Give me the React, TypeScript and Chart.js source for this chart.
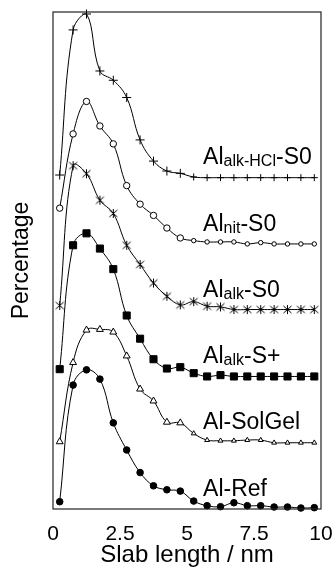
import React, { useEffect, useRef } from 'react';
import { Chart, registerables } from 'chart.js';

Chart.register(...registerables);

// ---- data ----
const slabLengths = [0.25, 0.75, 1.25, 1.75, 2.25, 2.75, 3.25, 3.75, 4.25, 4.75, 5.25, 5.75, 6.25, 6.75, 7.25, 7.75, 8.25, 8.75, 9.25, 9.75];

const alRef = [1.1, 18.7, 21.0, 19.6, 13.0, 8.9, 5.5, 3.5, 2.9, 2.7, 1.2, 0.5, 0.35, 0.95, 0.5, 0.5, 0.3, 0.3, 0.15, 0.2];
const alSolGel = [0.15, 12.1, 17.0, 17.1, 16.7, 13.1, 8.1, 6.3, 3.1, 3.0, 1.4, 0.4, 0.3, 0.3, 0.4, 0.4, 0, 0, 0, 0];
const alAlkSPlus = [1.1, 19.8, 21.6, 19.3, 16.2, 9.2, 5.7, 2.6, 1.2, 1.4, 0.5, 0, 0.2, 0, 0, 0, 0, 0, 0, 0];
const alAlkS0 = [0.7, 21.8, 20.6, 16.6, 14.6, 9.8, 6.9, 4.1, 2.1, 0.8, 1.3, 0.6, 0.5, 0.1, 0.1, 0.1, 0.1, 0.1, 0.1, 0.1];
const alNitS0 = [5.4, 16.6, 21.5, 17.8, 15.1, 8.8, 6.0, 4.3, 2.4, 0.9, 0.5, 0.3, 0.3, 0.3, 0, 0.2, 0, 0, 0, 0];
const alAlkHClS0 = [0.4, 22.3, 24.7, 16.1, 14.7, 12.1, 5.7, 2.5, 1.0, 0.65, 0.1, 0, 0, 0, 0, 0, 0, 0, 0, 0];

const seriesOffsets = [0, 10, 20, 30, 40, 50];

const labelMain = ['Al-Ref', 'Al-SolGel', 'Al', 'Al', 'Al', 'Al'];
const labelSub = ['', '', 'alk', 'alk', 'nit', 'alk-HCl'];
const labelTail = ['', '', '-S+', '-S0', '-S0', '-S0'];

const xTickValues = [0, 2.5, 5, 7.5, 10];
const xTickLabels = ['0', '2.5', '5', '7.5', '10'];

const FONT = '"Liberation Sans", Arial, sans-serif';
const LABEL_X = 5.6;
const LABEL_LIFT = 2;

function makeAsterisk(): HTMLCanvasElement {
  const c = document.createElement('canvas');
  c.width = 11;
  c.height = 11;
  const g = c.getContext('2d')!;
  g.strokeStyle = '#000';
  g.lineWidth = 1;
  g.beginPath();
  g.moveTo(5.5, 1);
  g.lineTo(5.5, 10);
  g.moveTo(1.5, 2);
  g.lineTo(9.5, 9);
  g.moveTo(9.5, 2);
  g.lineTo(1.5, 9);
  g.stroke();
  return c;
}

const framePlugin = {
  id: 'frame',
  afterDatasetsDraw(chart: any) {
    const { ctx, chartArea: a } = chart;
    ctx.save();
    ctx.strokeStyle = '#222';
    ctx.lineWidth = 1.2;
    ctx.strokeRect(a.left, a.top, a.right - a.left, a.bottom - a.top);
    ctx.restore();
  },
};

const labelPlugin = {
  id: 'seriesLabels',
  afterDatasetsDraw(chart: any) {
    const { ctx } = chart;
    const x = chart.scales.x;
    const y = chart.scales.y;
    ctx.save();
    ctx.fillStyle = '#000';
    ctx.textBaseline = 'alphabetic';
    ctx.textAlign = 'left';
    seriesOffsets.forEach((off, i) => {
      let px = x.getPixelForValue(LABEL_X);
      const py = y.getPixelForValue(off + LABEL_LIFT);
      ctx.font = `23px ${FONT}`;
      ctx.fillText(labelMain[i], px, py);
      px += ctx.measureText(labelMain[i]).width;
      if (labelSub[i]) {
        ctx.font = `16px ${FONT}`;
        ctx.fillText(labelSub[i], px, py + 2);
        px += ctx.measureText(labelSub[i]).width;
      }
      if (labelTail[i]) {
        ctx.font = `23px ${FONT}`;
        ctx.fillText(labelTail[i], px, py);
      }
    });
    ctx.restore();
  },
};

export default function App() {
  const ref = useRef<HTMLCanvasElement>(null);

  useEffect(() => {
    if (!ref.current) return;
    const asterisk = makeAsterisk();
    const seriesValues = [alRef, alSolGel, alAlkSPlus, alAlkS0, alNitS0, alAlkHClS0];
    const tailSmall = (big: number, small: number) => (c: any) =>
      slabLengths[c.dataIndex] > 5 ? small : big;

    const styles: any[] = [
      { pointStyle: 'circle', pointRadius: 3.3, pointBackgroundColor: '#000' },
      { pointStyle: 'triangle', pointRadius: tailSmall(4, 2.8), pointBackgroundColor: '#fff' },
      { pointStyle: 'rect', pointRadius: 5, pointBackgroundColor: '#000' },
      { pointStyle: asterisk, pointRadius: 5 },
      { pointStyle: 'circle', pointRadius: tailSmall(3.2, 2.2), pointBackgroundColor: '#fff' },
      { pointStyle: 'cross', pointRadius: tailSmall(4.5, 3.5), pointBackgroundColor: '#000' },
    ];

    const datasets = seriesValues.map((vals, i) => ({
      label: labelMain[i] + labelSub[i] + labelTail[i],
      data: vals.map((v, j) => ({ x: slabLengths[j], y: v + seriesOffsets[i] })),
      borderColor: '#000',
      borderWidth: 1,
      pointBorderColor: '#000',
      pointBorderWidth: 1,
      tension: 0.4,
      fill: false,
      clip: false as any,
      ...styles[i],
    }));

    const chart = new Chart(ref.current, {
      type: 'line',
      data: { datasets },
      options: {
        animation: false,
        responsive: false,
        maintainAspectRatio: false,
        layout: { padding: { top: 12, right: 12, left: 0, bottom: 0 } },
        plugins: { legend: { display: false }, tooltip: { enabled: false } },
        scales: {
          x: {
            type: 'linear',
            min: 0,
            max: 10,
            grid: { display: false, drawTicks: false },
            border: { display: false },
            afterBuildTicks: (s: any) => {
              s.ticks = xTickValues.map((v) => ({ value: v }));
            },
            afterFit: (s: any) => {
              s.height = 58;
              s.paddingLeft = 0;
              s.paddingRight = 0;
            },
            ticks: {
              padding: 13,
              color: '#000',
              font: { family: FONT, size: 21 },
              maxRotation: 0,
              autoSkip: false,
              callback: (v: any) => {
                const k = xTickValues.indexOf(Number(v));
                return k >= 0 ? xTickLabels[k] : '';
              },
            },
            title: {
              display: true,
              text: 'Slab length / nm',
              color: '#000',
              font: { family: FONT, size: 24, lineHeight: 1 },
              padding: { top: 0, bottom: 0 },
            },
          },
          y: {
            type: 'linear',
            min: 0,
            max: 75,
            grid: { display: false, drawTicks: false },
            border: { display: false },
            ticks: { display: false },
            afterFit: (s: any) => {
              s.width = 53;
              s.paddingTop = 0;
              s.paddingBottom = 0;
            },
            title: {
              display: true,
              text: 'Percentage',
              color: '#000',
              font: { family: FONT, size: 23 },
              padding: { top: 8, bottom: 0 },
            },
          },
        },
      },
      plugins: [framePlugin, labelPlugin],
    });
    return () => chart.destroy();
  }, []);

  return (
    <div style={{ position: 'absolute', left: 0, top: 0, width: 333, height: 567, background: '#fff' }}>
      <canvas ref={ref} width={333} height={567} style={{ display: 'block' }} />
    </div>
  );
}
